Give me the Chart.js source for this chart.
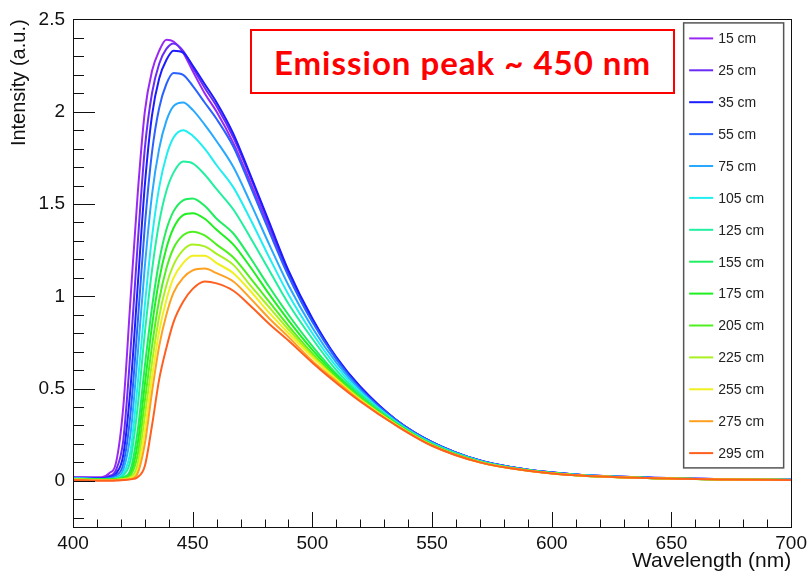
<!DOCTYPE html>
<html>
<head>
<meta charset="utf-8">
<script src="https://cdn.jsdelivr.net/npm/chart.js@4.4.1/dist/chart.umd.min.js"></script>
<style>
  html, body { margin: 0; padding: 0; background: #fff; }
  #wrap { position: relative; width: 812px; height: 576px; }
  #chart { display: block; }
  #note {
    position: absolute; left: 250px; top: 29px; width: 421px; height: 61px;
    border: 2px solid #f00; color: #f00; background: #fff;
    font: 700 33px Lato, "Open Sans", sans-serif; letter-spacing: 1px;
    display: flex; align-items: center; justify-content: center;
  }
</style>
</head>
<body>
<div id="wrap">
  <canvas id="chart" width="812" height="576"></canvas>
  <div id="note">Emission peak ~ 450 nm</div>
</div>
<script>
// wavelength grid (nm) and tick labels
const wavelengths = [400, 412, 415, 418, 421, 424, 427, 430, 433, 436, 439, 442, 446, 450, 455,
  460, 467, 474, 482, 490, 500, 510, 520, 535, 550, 570, 590, 610, 640, 670, 700];
const xTicks = [400, 450, 500, 550, 600, 650, 700];
const yTicks = [0, 0.5, 1, 1.5, 2, 2.5];

const distances = ["15 cm", "25 cm", "35 cm", "55 cm", "75 cm", "105 cm", "125 cm",
  "155 cm", "175 cm", "205 cm", "225 cm", "255 cm", "275 cm", "295 cm"];

const colors = ["#9a28f5", "#6a2cf5", "#1c1cff", "#2a62ff", "#28a8ff", "#20eef0", "#20f0a0",
  "#20ee60", "#20f020", "#50f020", "#a8f020", "#f0f020", "#ffa020", "#ff6020"];

// intensity, one array per distance
const i15 = [0.02, 0.02, 0.04, 0.1, 0.4, 0.98, 1.55, 2.0, 2.22, 2.33, 2.39, 2.38, 2.32, 2.22, 2.1,
  2.0, 1.83, 1.62, 1.37, 1.12, 0.87, 0.66, 0.505, 0.33, 0.21, 0.11, 0.06, 0.034, 0.017, 0.009, 0.006];
const i25 = [0.02, 0.015, 0.025, 0.06, 0.22, 0.7, 1.28, 1.8, 2.1, 2.26, 2.34, 2.37, 2.33, 2.24, 2.13,
  2.03, 1.86, 1.65, 1.39, 1.13, 0.875, 0.665, 0.51, 0.33, 0.21, 0.11, 0.06, 0.035, 0.018, 0.01, 0.006];
const i35 = [0.015, 0.015, 0.02, 0.04, 0.14, 0.5, 1.05, 1.6, 1.98, 2.18, 2.28, 2.33, 2.32, 2.25, 2.15,
  2.05, 1.88, 1.66, 1.4, 1.14, 0.88, 0.67, 0.51, 0.33, 0.21, 0.11, 0.06, 0.035, 0.018, 0.01, 0.006];
const i55 = [0.015, 0.012, 0.015, 0.03, 0.09, 0.36, 0.85, 1.38, 1.78, 2.02, 2.15, 2.21, 2.2, 2.14, 2.05,
  1.96, 1.81, 1.6, 1.35, 1.11, 0.86, 0.66, 0.5, 0.33, 0.21, 0.11, 0.06, 0.034, 0.017, 0.009, 0.006];
const i75 = [0.015, 0.01, 0.012, 0.02, 0.06, 0.25, 0.68, 1.16, 1.55, 1.8, 1.95, 2.03, 2.05, 2.01, 1.93,
  1.84, 1.7, 1.51, 1.28, 1.06, 0.83, 0.64, 0.49, 0.32, 0.205, 0.108, 0.059, 0.033, 0.017, 0.009, 0.006];
const i105 = [0.012, 0.01, 0.01, 0.015, 0.04, 0.16, 0.52, 0.95, 1.32, 1.59, 1.76, 1.86, 1.9, 1.87, 1.8,
  1.71, 1.59, 1.42, 1.21, 1.01, 0.8, 0.62, 0.48, 0.32, 0.203, 0.107, 0.058, 0.033, 0.016, 0.009, 0.006];
const i125 = [0.012, 0.01, 0.01, 0.012, 0.03, 0.11, 0.4, 0.8, 1.14, 1.4, 1.57, 1.67, 1.73, 1.72, 1.66,
  1.58, 1.47, 1.32, 1.14, 0.96, 0.77, 0.6, 0.47, 0.316, 0.2, 0.105, 0.058, 0.032, 0.016, 0.009, 0.005];
const i155 = [0.01, 0.008, 0.008, 0.01, 0.02, 0.06, 0.27, 0.62, 0.94, 1.19, 1.36, 1.46, 1.52, 1.53, 1.49,
  1.42, 1.34, 1.21, 1.05, 0.9, 0.73, 0.58, 0.46, 0.31, 0.197, 0.104, 0.057, 0.031, 0.016, 0.008, 0.005];
const i175 = [0.01, 0.008, 0.008, 0.01, 0.015, 0.04, 0.2, 0.52, 0.84, 1.09, 1.26, 1.37, 1.44, 1.45, 1.42,
  1.36, 1.28, 1.16, 1.01, 0.87, 0.71, 0.57, 0.45, 0.31, 0.196, 0.103, 0.057, 0.031, 0.016, 0.008, 0.005];
const i205 = [0.01, 0.006, 0.006, 0.008, 0.012, 0.03, 0.14, 0.43, 0.73, 0.98, 1.15, 1.26, 1.33, 1.35, 1.33,
  1.28, 1.21, 1.1, 0.97, 0.84, 0.69, 0.56, 0.45, 0.306, 0.194, 0.102, 0.056, 0.031, 0.015, 0.008, 0.005];
const i225 = [0.008, 0.005, 0.005, 0.006, 0.01, 0.02, 0.09, 0.35, 0.64, 0.89, 1.06, 1.17, 1.25, 1.28, 1.27,
  1.23, 1.17, 1.06, 0.94, 0.82, 0.68, 0.55, 0.44, 0.305, 0.193, 0.101, 0.056, 0.03, 0.015, 0.008, 0.005];
const i255 = [0.008, 0.004, 0.004, 0.005, 0.008, 0.015, 0.06, 0.27, 0.56, 0.81, 0.98, 1.1, 1.18, 1.22, 1.22,
  1.18, 1.125, 1.03, 0.91, 0.8, 0.67, 0.55, 0.44, 0.303, 0.192, 0.101, 0.055, 0.03, 0.015, 0.008, 0.005];
const i275 = [0.006, 0.003, 0.003, 0.004, 0.006, 0.01, 0.04, 0.2, 0.48, 0.73, 0.9, 1.02, 1.1, 1.14, 1.15,
  1.125, 1.08, 0.99, 0.88, 0.78, 0.65, 0.54, 0.434, 0.3, 0.19, 0.1, 0.055, 0.03, 0.015, 0.008, 0.005];
const i295 = [0.005, 0.0, 0.0, 0.002, 0.004, 0.008, 0.02, 0.08, 0.3, 0.55, 0.72, 0.86, 0.97, 1.04, 1.08,
  1.07, 1.03, 0.95, 0.85, 0.76, 0.64, 0.53, 0.43, 0.3, 0.19, 0.1, 0.055, 0.03, 0.015, 0.008, 0.005];

const series = [i15, i25, i35, i55, i75, i105, i125, i155, i175, i205, i225, i255, i275, i295];

const FONT = "'Liberation Sans', Arial, Helvetica, sans-serif";
Chart.defaults.font.family = FONT;

// frame + inward ticks (ROOT style)
const frameTicks = {
  id: "frameTicks",
  afterDatasetsDraw(chart) {
    const { ctx, chartArea: a, scales: { x, y } } = chart;
    ctx.save();
    ctx.strokeStyle = "#111";
    ctx.lineWidth = 1;
    ctx.beginPath();
    for (let v = 400; v <= 700; v += 10) {
      const px = Math.round(x.getPixelForValue(v)) + 0.5;
      const len = v % 50 === 0 ? 15 : 7.5;
      ctx.moveTo(px, a.bottom);
      ctx.lineTo(px, a.bottom - len);
    }
    for (let k = -2; k <= 25; k++) {
      const py = Math.round(y.getPixelForValue(k / 10)) + 0.5;
      const len = k % 5 === 0 ? 22 : 11;
      ctx.moveTo(a.left, py);
      ctx.lineTo(a.left + len, py);
    }
    ctx.stroke();
    ctx.strokeRect(Math.round(a.left) + 0.5, Math.round(a.top) + 0.5,
      Math.round(a.right - a.left), Math.round(a.bottom - a.top));
    ctx.restore();
  }
};

// legend box inside the frame
const boxLegend = {
  id: "boxLegend",
  afterDraw(chart) {
    const { ctx, chartArea: a } = chart;
    const bx = a.right - 108, by = a.top + 3, bw = 100, bh = 445;
    ctx.save();
    ctx.fillStyle = "#fff";
    ctx.fillRect(bx, by, bw, bh);
    ctx.strokeStyle = "#555";
    ctx.lineWidth = 1.5;
    ctx.strokeRect(bx + 0.5, by + 0.5, bw, bh);
    ctx.font = "14px " + FONT;
    ctx.textBaseline = "middle";
    chart.data.datasets.forEach((ds, i) => {
      const cy = by + 16 + i * 31.9;
      ctx.strokeStyle = ds.borderColor;
      ctx.lineWidth = 2;
      ctx.beginPath();
      ctx.moveTo(bx + 6, cy);
      ctx.lineTo(bx + 30, cy);
      ctx.stroke();
      ctx.fillStyle = "#222";
      ctx.fillText(ds.label, bx + 35, cy + 1);
    });
    ctx.restore();
  }
};

new Chart(document.getElementById("chart"), {
  type: "line",
  data: {
    datasets: series.map((vals, i) => ({
      label: distances[i],
      data: wavelengths.map((w, k) => ({ x: w, y: vals[k] })),
      borderColor: colors[i],
      borderWidth: 2,
      pointRadius: 0,
      cubicInterpolationMode: "monotone",
      order: series.length - i
    }))
  },
  options: {
    responsive: false,
    animation: false,
    layout: { padding: { top: 14, right: 19, left: 0, bottom: 0 } },
    plugins: { legend: { display: false }, tooltip: { enabled: false } },
    scales: {
      x: {
        type: "linear", min: 400, max: 700,
        grid: { display: false, drawTicks: false },
        border: { display: false },
        afterFit: (s) => { s.height = 49; },
        afterBuildTicks: (s) => { s.ticks = xTicks.map((v) => ({ value: v })); },
        ticks: { padding: 5, font: { size: 19 }, color: "#111", maxRotation: 0, autoSkip: false,
          callback: (v) => String(v) },
        title: { display: true, text: "Wavelength (nm)", align: "end", color: "#111",
          font: { size: 21 }, padding: { top: 0, bottom: 2 } }
      },
      y: {
        type: "linear", min: -0.25, max: 2.5,
        grid: { display: false, drawTicks: false },
        border: { display: false },
        afterFit: (s) => { s.width = 73; },
        afterBuildTicks: (s) => { s.ticks = yTicks.map((v) => ({ value: v })); },
        ticks: { padding: 8, font: { size: 19 }, color: "#111", callback: (v) => String(v) },
        title: { display: true, text: "Intensity (a.u.)", align: "end", color: "#111",
          font: { size: 20 }, padding: { top: 7, bottom: 0 } }
      }
    }
  },
  plugins: [frameTicks, boxLegend]
});
</script>
</body>
</html>
